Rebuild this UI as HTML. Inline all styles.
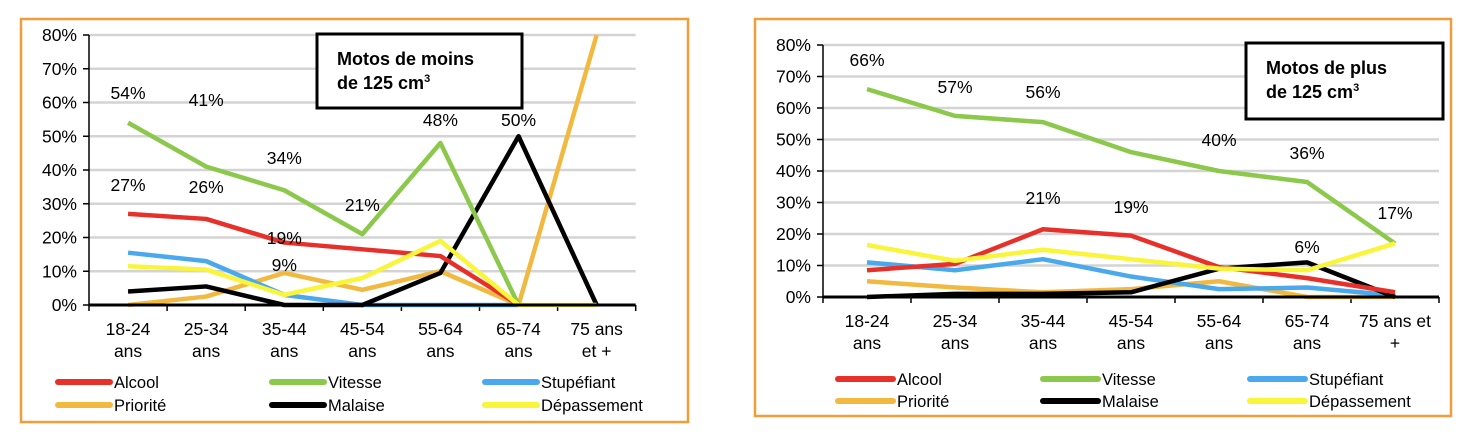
<!DOCTYPE html>
<html><head><meta charset="utf-8"><style>
body{margin:0;background:#fff;width:1480px;height:438px;overflow:hidden;font-family:"Liberation Sans",sans-serif}
svg{position:absolute;left:0;top:0}
</style></head><body>
<svg id="c" width="1480" height="438"></svg>
<script>
const categories=["18-24|ans","25-34|ans","35-44|ans","45-54|ans","55-64|ans","65-74|ans","75 ans|et +"];
const categoriesR=["18-24|ans","25-34|ans","35-44|ans","45-54|ans","55-64|ans","65-74|ans","75 ans et|+"];
const yTicks=[0,10,20,30,40,50,60,70,80];
const seriesNames=["Alcool","Vitesse","Stupéfiant","Priorité","Malaise","Dépassement"];
const seriesColors=["#e8302a","#8cc84b","#4aa9ec","#f2b941","#000000","#f8f53a"];
const alcoolL=[27,25.5,18.5,16.5,14.5,0,null];
const vitesseL=[54,41,34,21,48,0,null];
const stupL=[15.5,13,3,0,0,0,null];
const prioL=[0,2.5,9.5,4.5,10,0,80];
const malaiseL=[4,5.5,0,0,9.5,50,0];
const depL=[11.5,10.5,3,8,19,0,0];
const labelsL=[[1,0,54,"54%",93],[1,1,41,"41%",100],[1,2,34,"34%",158],[1,3,21,"21%",205],[1,4,48,"48%",120],[4,5,50,"50%",120],[0,0,27,"27%",185],[0,1,26,"26%",187],[0,2,19,"19%",238],[3,2,9,"9%",265]];
const alcoolR=[8.5,10.5,21.5,19.5,9.5,6,1.5];
const vitesseR=[66,57.5,55.5,46,40,36.5,17];
const stupR=[11,8.5,12,6.5,2.5,3,0.5];
const prioR=[5,3,1.5,2.5,5,0,0];
const malaiseR=[0,1,1,1.5,9,11,0];
const depR=[16.5,11.5,15,12,9,8.5,17];
const labelsR=[[1,0,66,"66%",60],[1,1,57,"57%",87],[1,2,56,"56%",92],[1,4,40,"40%",140],[1,5,36,"36%",153],[0,2,21,"21%",198],[0,3,19,"19%",207],[1,6,17,"17%",213],[4,5,6,"6%",247]];
const svg=document.getElementById('c');const NS="http://www.w3.org/2000/svg";
function mk(t,a,p){const e=document.createElementNS(NS,t);for(const k in a)e.setAttribute(k,a[k]);(p||svg).appendChild(e);return e;}
function chart(o){
 const g=mk('g',{});
 
 
 const fr=mk('rect',{x:o.fx,y:o.fy,width:o.fw,height:o.fh,fill:'#fff',stroke:'#f39c3a','stroke-width':2.5},g);
 
 
 const X=i=>o.x0+(i+0.5)*o.step, Y=v=>o.y0-v/80*(o.y0-o.y80);
 yTicks.forEach(t=>{
  if(t>0){const l=mk('line',{x1:o.x0,x2:o.x0+7*o.step,y1:Y(t),y2:Y(t),stroke:'#d4d4d4','stroke-width':2.5},g);
  
  }
  mk('line',{x1:o.x0-6,x2:o.x0,y1:Y(t),y2:Y(t),stroke:'#000','stroke-width':1.5},g);
  const tx=mk('text',{x:o.x0-12,y:Y(t)+6,'text-anchor':'end','font-size':17.5},g);tx.textContent=t+'%';
  
  
 });
 mk('line',{x1:o.x0,x2:o.x0,y1:Y(80),y2:Y(0),stroke:'#000','stroke-width':1.5},g);
 for(let i=0;i<=7;i++)mk('line',{x1:o.x0+i*o.step,x2:o.x0+i*o.step,y1:Y(0),y2:Y(0)+6,stroke:'#000','stroke-width':1.5},g);
 o.cats.forEach((c,i)=>{c.split('|').forEach((s,j)=>{const t=mk('text',{x:X(i),y:Y(0)+30+j*22,'text-anchor':'middle','font-size':17.5},g);t.textContent=s;
  
  });});
 const order=[3,2,4,0,1,5];
 order.forEach(si=>{const d=o.data[si];let pts=[];d.forEach((v,i)=>{if(v!==null)pts.push(X(i)+','+Y(v));});
  const p=mk('polyline',{points:pts.join(' '),fill:'none',stroke:seriesColors[si],'stroke-width':4.5,'stroke-linejoin':'round'},g);
  
  });
 mk('line',{x1:o.x0,x2:o.x0+7*o.step,y1:Y(0),y2:Y(0),stroke:'#000','stroke-width':3},g);
 o.labels.forEach(l=>{const t=mk('text',{x:X(l[1]),y:l[4]+6,'text-anchor':'middle','font-size':17.5},g);t.textContent=l[3];
  
  });
 const b=mk('rect',{x:o.bx,y:o.by,width:o.bw,height:o.bh,fill:'#fff',stroke:'#000','stroke-width':3},g);
 
 
 const t1=mk('text',{x:o.bx+20,y:o.by+31,'font-size':18,'font-weight':'bold'},g);t1.textContent=o.t1;
 
 
 const t2=mk('text',{x:o.bx+20,y:o.by+55,'font-size':18,'font-weight':'bold'},g);t2.innerHTML='de 125 cm<tspan dy="-7" font-size="11">3</tspan>';
 seriesNames.forEach((n,i)=>{const c=i%3,r=Math.floor(i/3);const lx=o.lx[c],ly=o.ly[r];
  const le=mk('g',{},g);
  
  
  mk('line',{x1:lx,x2:lx+o.ll,y1:ly,y2:ly,stroke:seriesColors[i],'stroke-width':6,'stroke-linecap':'round'},le);
  const t=mk('text',{x:lx+o.ll+4,y:ly+6,'font-size':16.5},le);t.textContent=n;});
}
chart({name:'chart-moins-125',fx:21,fy:19,fw:667,fh:403,x0:89,step:78.1,y0:305,y80:35,cats:categories,
 data:[alcoolL,vitesseL,stupL,prioL,malaiseL,depL],labels:labelsL,bx:317,by:34,bw:205,bh:74,t1:'Motos de moins',
 lx:[58,272,485],ly:[382,405],ll:52});
chart({name:'chart-plus-125',fx:755,fy:19,fw:696,fh:397,x0:823,step:88,y0:297,y80:45,cats:categoriesR,
 data:[alcoolR,vitesseR,stupR,prioR,malaiseR,depR],labels:labelsR,bx:1246,by:43,bw:197,bh:76,t1:'Motos de plus',
 lx:[838,1043,1250],ly:[379,401],ll:55});
</script>
</body></html>
